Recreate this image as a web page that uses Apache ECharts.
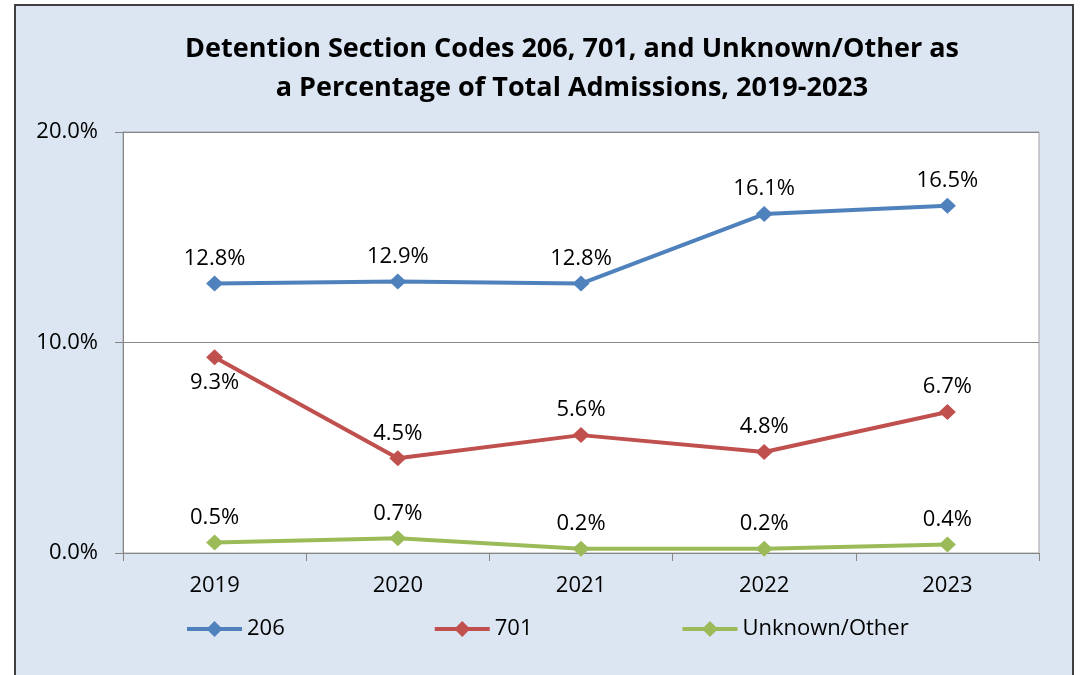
<!DOCTYPE html>
<html><head><meta charset="utf-8">
<script src="https://cdn.jsdelivr.net/npm/echarts@6/dist/echarts.min.js"></script>
<style>html,body{margin:0;padding:0;background:#fff;}#c{width:1080px;height:675px;}</style>
</head><body><div id="c"></div>
<script>
const categories = ['2019','2020','2021','2022','2023'];
const s206 = [12.8, 12.9, 12.8, 16.1, 16.5];
const s701 = [9.3, 4.5, 5.6, 4.8, 6.7];
const sUnknown = [0.5, 0.7, 0.2, 0.2, 0.4];
const seriesNames = ['206','701','Unknown/Other'];

const FONT = '"Open Sans", sans-serif';
const FS = 22;
const chart = echarts.init(document.getElementById('c'), null, {renderer:'canvas'});
const fmt = p => (typeof p.value === 'number' ? p.value : p.data.value).toFixed(1) + '%';
const lbl = (pos) => ({show:true, position:pos, distance:6, color:'#000', fontSize:FS, fontFamily:FONT, formatter: fmt});
function mk(name, data, color) {
  return {
    name, type:'line', data, symbol:'diamond', symbolSize:[17,16],
    lineStyle:{color, width:4}, itemStyle:{color},
    label: lbl('top'),
    emphasis:{disabled:true},
    animation:false
  };
}
const s2 = mk('701', s701, '#c0504d');
s2.data = s701.map((v,i)=> i===0 ? {value:v, label:{position:'bottom'}} : v);

chart.setOption({
  backgroundColor:'#fff',
  textStyle:{fontFamily:FONT},
  graphic:[{type:'rect', z:-10, shape:{x:15, y:5, width:1058, height:690},
    style:{fill:'#dce6f2', stroke:'#404040', lineWidth:2}}],
  title:{text:'Detention Section Codes 206, 701, and Unknown/Other as\na Percentage of Total Admissions, 2019-2023',
    left:567, top:25, textAlign:'center',
    textStyle:{fontFamily:FONT, fontWeight:'bold', fontSize:27, lineHeight:39, color:'#000'}},
  grid:{left:123, right:41, top:132, bottom:122, show:true, backgroundColor:'#fff', borderColor:'#a6a6a6', borderWidth:1},
  legend:{data:seriesNames, bottom:30, left:180, itemWidth:55, itemHeight:20, itemGap:148,
    lineStyle:{width:4},
    textStyle:{fontSize:FS, fontFamily:FONT, color:'#000'}},
  xAxis:{type:'category', data:categories, boundaryGap:true,
    axisLine:{lineStyle:{color:'#868686', width:1}},
    axisTick:{show:true, length:8, lineStyle:{color:'#868686'}},
    axisLabel:{fontSize:FS, color:'#000', margin:22, fontFamily:FONT}},
  yAxis:{type:'value', min:0, max:20, interval:10,
    axisLine:{show:true, lineStyle:{color:'#868686'}},
    axisTick:{show:true, length:8, lineStyle:{color:'#868686'}},
    splitLine:{show:true, lineStyle:{color:'#868686', width:1}},
    axisLabel:{fontSize:FS, color:'#000', margin:25, fontFamily:FONT, formatter: v => v.toFixed(1)+'%'}},
  series:[
    mk('206', s206, '#4f81bd'),
    s2,
    mk('Unknown/Other', sUnknown, '#9bbb59')
  ]
});
</script></body></html>
